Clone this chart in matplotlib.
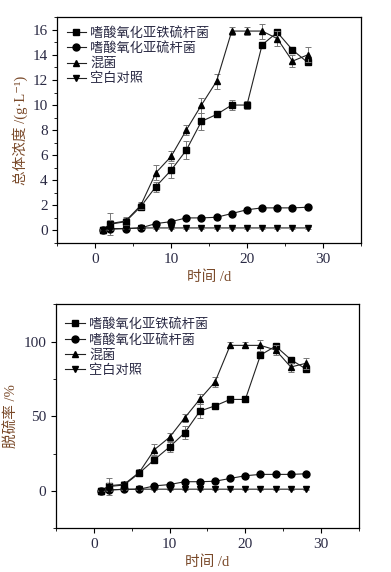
import matplotlib
matplotlib.use("Agg")
import matplotlib.pyplot as plt
import numpy as np
from matplotlib.ticker import MultipleLocator

plt.rcParams['font.family'] = ['Liberation Serif', 'Noto Sans CJK SC', 'DejaVu Sans']

days = [1, 2, 4, 6, 8, 10, 12, 14, 16, 18, 20, 22, 24, 26, 28]
names = ['嗜酸氧化亚铁硫杆菌', '嗜酸氧化亚硫杆菌', '混菌', '空白对照']
markers = ['s', 'o', '^', 'v']

# total iron concentration, g/L
conc = [
    [0.05, 0.5, 0.7, 1.9, 3.5, 4.8, 6.4, 8.7, 9.25, 10.0, 10.0, 14.8, 15.8, 14.4, 13.4],
    [0.05, 0.15, 0.15, 0.2, 0.55, 0.7, 1.0, 1.0, 1.05, 1.35, 1.65, 1.8, 1.8, 1.8, 1.85],
    [0.05, 0.55, 0.75, 2.0, 4.6, 5.9, 8.0, 10.0, 11.9, 15.9, 15.9, 15.9, 15.3, 13.5, 14.0],
    [0.05, 0.1, 0.15, 0.2, 0.2, 0.2, 0.2, 0.2, 0.2, 0.2, 0.2, 0.2, 0.2, 0.2, 0.2],
]
conc_err = [
    [0.1, 0.9, 0.3, 0.3, 0.4, 0.6, 0.7, 0.7, 0.2, 0.4, 0.3, 0.2, 0.2, 0.2, 0.2],
    [0.05, 0.1, 0.1, 0.1, 0.1, 0.1, 0.1, 0.1, 0.1, 0.1, 0.1, 0.1, 0.1, 0.1, 0.1],
    [0.1, 0.3, 0.3, 0.3, 0.6, 0.4, 0.4, 0.6, 0.6, 0.3, 0.3, 0.6, 0.6, 0.5, 0.6],
    [0.05, 0.05, 0.05, 0.05, 0.05, 0.05, 0.05, 0.05, 0.05, 0.05, 0.05, 0.05, 0.05, 0.05, 0.05],
]

# desulfurization rate, %
rate = [
    [0.3, 3.0, 4.0, 12.0, 21.0, 29.5, 39.0, 53.5, 57.0, 61.3, 61.3, 91.0, 97.0, 88.0, 81.7],
    [0.3, 0.8, 1.0, 1.2, 3.4, 4.3, 6.2, 6.2, 6.5, 8.4, 10.2, 11.1, 11.1, 11.1, 11.5],
    [0.3, 3.5, 4.5, 12.5, 27.7, 36.0, 49.0, 61.5, 73.0, 97.5, 97.5, 97.5, 94.4, 83.0, 85.5],
    [0.3, 0.6, 1.2, 1.2, 1.2, 1.2, 1.2, 1.2, 1.2, 1.2, 1.2, 1.2, 1.2, 1.2, 1.2],
]
rate_err = [
    [0.5, 5.5, 2.0, 2.0, 2.5, 3.5, 4.5, 4.5, 1.5, 2.5, 2.0, 1.5, 1.5, 1.5, 1.5],
    [0.3, 0.5, 0.5, 0.5, 0.5, 0.5, 0.5, 0.5, 0.5, 0.5, 0.5, 0.5, 0.5, 0.5, 0.5],
    [0.5, 2.0, 2.0, 2.0, 3.5, 2.5, 2.5, 3.5, 3.5, 2.0, 2.0, 3.5, 3.5, 3.0, 3.5],
    [0.3, 0.3, 0.3, 0.3, 0.3, 0.3, 0.3, 0.3, 0.3, 0.3, 0.3, 0.3, 0.3, 0.3, 0.3],
]

label_col = '#7a4a2a'
tick_col = '#2a2a44'

fig = plt.figure(figsize=(3.91, 5.72), dpi=100)
ax1 = fig.add_axes([0.1466, 0.5752, 0.7759, 0.3946])
ax2 = fig.add_axes([0.1432, 0.0764, 0.7748, 0.3916])


def draw(ax, values, errs, ylim, major, minor, ylabel, leg_y):
    lines = []
    for vals, err, m, name in zip(values, errs, markers, names):
        ax.errorbar(days, vals, yerr=err, fmt='none', ecolor='#777777',
                    elinewidth=0.7, capsize=2.5, capthick=0.7)
        ln, = ax.plot(days, vals, color='#222222', lw=0.8, marker=m,
                      markersize=5, mfc='black', mec='black', label=name)
        lines.append(ln)
    ax.set_xlim(-5, 35)
    ax.set_ylim(*ylim)
    ax.xaxis.set_major_locator(MultipleLocator(10))
    ax.xaxis.set_minor_locator(MultipleLocator(5))
    ax.yaxis.set_major_locator(MultipleLocator(major))
    ax.yaxis.set_minor_locator(MultipleLocator(minor))
    ax.tick_params(which='both', direction='out', top=False, right=False,
                   labelsize=11, labelcolor=tick_col)
    ax.tick_params(which='major', length=3.5, width=0.8)
    ax.tick_params(which='minor', length=2, width=0.6)
    for sp in ax.spines.values():
        sp.set_linewidth(0.9)
    ax.set_xlabel('时间 /d', fontsize=10.5, color=label_col, labelpad=3)
    ax.set_ylabel(ylabel, fontsize=10.5, color=label_col, labelpad=3)
    leg = ax.legend(handles=lines, loc='upper left', bbox_to_anchor=(0.0, leg_y),
                    frameon=False, fontsize=9.5, labelspacing=0.2,
                    handlelength=1.5, handletextpad=0.3, borderaxespad=0.3)
    for t in leg.get_texts():
        t.set_color(tick_col)


draw(ax1, conc, conc_err, (-1, 17), 2, 1, '总体浓度 /(g·L⁻¹)', 1.0)
draw(ax2, rate, rate_err, (-25, 125), 50, 25, '脱硫率 /%', 0.98)

fig.savefig('out.png', dpi=100)
